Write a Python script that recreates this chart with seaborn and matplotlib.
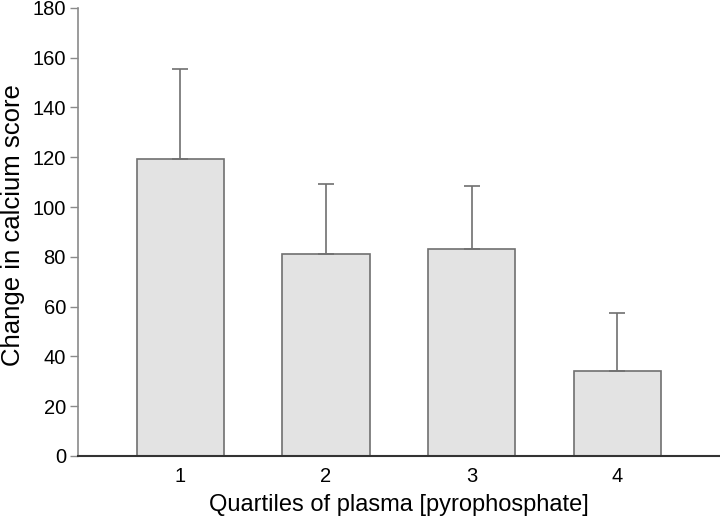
import matplotlib
matplotlib.use("Agg")
import matplotlib.pyplot as plt
import numpy as np
import pandas as pd
import seaborn as sns

# values
quartiles = ["1", "2", "3", "4"]
mean_change = [119.2, 81.0, 83.0, 34.0]
upper_error = [36.4, 28.2, 25.3, 23.4]

sns.set_theme(style="white")
plt.rcParams["font.family"] = ["Liberation Sans", "DejaVu Sans"]

df = pd.DataFrame({"quartile": quartiles, "change": mean_change})

fig = plt.figure(figsize=(7.2, 5.18), dpi=100)
ax = fig.add_axes([0.109, 0.1197, 0.89, 0.865])

sns.barplot(data=df, x="quartile", y="change", color="#e3e3e3",
            edgecolor="#707070", linewidth=1.2, width=0.6, saturation=1, ax=ax)

# upward-only error bars
ax.errorbar(np.arange(len(quartiles)), mean_change,
            yerr=[np.zeros(len(quartiles)), upper_error],
            fmt="none", ecolor="#707070", elinewidth=1.2, capsize=6, capthick=1.2)

ax.set_xlim(-0.7, 3.7)
ax.set_ylim(0, 180)
ax.set_yticks(range(0, 181, 20))

sns.despine(ax=ax)
ax.spines["left"].set_color("#8a8a8a")
ax.spines["left"].set_linewidth(1.2)
ax.spines["bottom"].set_color("#333333")
ax.spines["bottom"].set_linewidth(1.5)

ax.tick_params(axis="y", left=True, direction="out", length=6, width=1,
               color="#8a8a8a", labelsize=14.5, pad=3, labelcolor="black")
ax.tick_params(axis="x", bottom=False, length=0, labelsize=14.5, pad=8,
               labelcolor="black")

ax.set_xlabel("Quartiles of plasma [pyrophosphate]", fontsize=17, labelpad=6,
              color="black")
ax.set_ylabel("Change in calcium score", fontsize=18.5, color="black")
ax.yaxis.set_label_coords(-0.083, 0.515)

fig.savefig("out.png", dpi=100)
